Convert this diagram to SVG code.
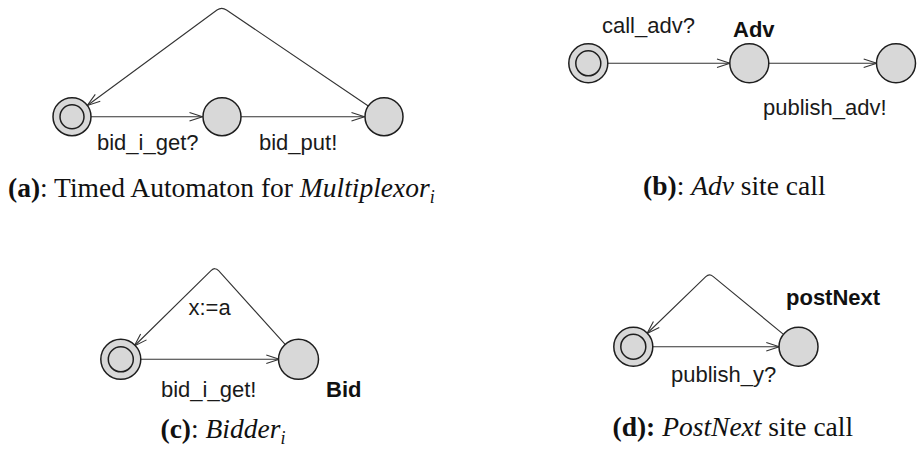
<svg xmlns="http://www.w3.org/2000/svg" width="917" height="453" viewBox="0 0 917 453">
  <defs>
    <marker id="arrow" markerUnits="userSpaceOnUse" markerWidth="16" markerHeight="12" viewBox="-14 -6 16 12" refX="0" refY="0" orient="auto">
      <path d="M -13 -4.2 L 0 0 L -13 4.2" fill="none" stroke="#333" stroke-width="1.1"/>
    </marker>
    <style>
      .loc { fill: #d8d8d8; stroke: #1e1e1e; stroke-width: 1.5; }
      .inner { fill: none; stroke: #1e1e1e; stroke-width: 1.5; }
      .edge { fill: none; stroke: #333; stroke-width: 1.1; marker-end: url(#arrow); }
      .lbl { font-family: "Liberation Sans", Arial, sans-serif; font-size: 22px; fill: #1a1a1a; }
      .name { font-family: "Liberation Sans", Arial, sans-serif; font-size: 22px; font-weight: bold; fill: #111; }
      .cap { font-family: "Liberation Serif", "Times New Roman", serif; font-size: 27.5px; fill: #111; }
      .b { font-weight: bold; }
      .i { font-style: italic; }
    </style>
  </defs>

  <!-- connectors -->
  <g id="edges">
    <!-- (a) Multiplexor -->
    <path class="edge" d="M 91 116.7 L 202.5 116.7"/>
    <path class="edge" d="M 241 116.7 L 364.5 116.7"/>
    <path class="edge" d="M 368.3 106 L 226.5 10 Q 221.7 6.7 217 10 L 87.3 105.5"/>
    <!-- (b) Adv -->
    <path class="edge" d="M 608 63.3 L 730 63.3"/>
    <path class="edge" d="M 768.5 63.3 L 876.7 63.3"/>
    <!-- (c) Bidder -->
    <path class="edge" d="M 140 359.3 L 279.3 359.3"/>
    <path class="edge" d="M 285.8 345.2 L 218.6 270.7 Q 215 266.7 211 270.6 L 134.3 346"/>
    <!-- (d) PostNext -->
    <path class="edge" d="M 652.5 346.7 L 779.3 346.7"/>
    <path class="edge" d="M 783.8 334.6 L 713 276.4 Q 709.3 273.3 705.8 276.7 L 647 333.5"/>
  </g>

  <!-- (a) locations -->
  <g id="a-init"><circle class="loc" cx="72" cy="116.7" r="19"/><circle class="inner" cx="72" cy="116.7" r="12"/></g>
  <g id="a-mid"><circle class="loc" cx="222" cy="116.7" r="19"/></g>
  <g id="a-end"><circle class="loc" cx="384" cy="116.7" r="19"/></g>
  <g id="a-labels">
    <text class="lbl" x="97" y="150">bid_i_get?</text>
    <text class="lbl" x="259" y="150">bid_put!</text>
  </g>
  <g id="a-caption">
    <text class="cap" x="8" y="197"><tspan class="b">(a)</tspan>: Timed Automaton for <tspan class="i">Multiplexor</tspan><tspan class="i" font-size="18" dy="6">i</tspan></text>
  </g>

  <!-- (b) locations -->
  <g id="b-init"><circle class="loc" cx="588.3" cy="63.3" r="19.5"/><circle class="inner" cx="588.3" cy="63.3" r="12.5"/></g>
  <g id="b-adv"><circle class="loc" cx="749.3" cy="63.3" r="19.5"/><text class="name" x="733" y="36.5">Adv</text></g>
  <g id="b-end"><circle class="loc" cx="896" cy="63.3" r="19.5"/></g>
  <g id="b-labels">
    <text class="lbl" x="602" y="33">call_adv?</text>
    <text class="lbl" x="763" y="115">publish_adv!</text>
  </g>
  <g id="b-caption">
    <text class="cap" x="643" y="195"><tspan class="b">(b)</tspan>: <tspan class="i">Adv</tspan> site call</text>
  </g>

  <!-- (c) locations -->
  <g id="c-init"><circle class="loc" cx="120.8" cy="359.3" r="20"/><circle class="inner" cx="120.8" cy="359.3" r="12.5"/></g>
  <g id="c-bid"><circle class="loc" cx="298.5" cy="359.3" r="20"/><text class="name" x="326" y="396.5">Bid</text></g>
  <g id="c-labels">
    <text class="lbl" x="188.5" y="315">x:=a</text>
    <text class="lbl" x="161" y="396.5">bid_i_get!</text>
  </g>
  <g id="c-caption">
    <text class="cap" x="160.5" y="438"><tspan class="b">(c)</tspan>: <tspan class="i">Bidder</tspan><tspan class="i" font-size="18" dy="6">i</tspan></text>
  </g>

  <!-- (d) locations -->
  <g id="d-init"><circle class="loc" cx="633.3" cy="346.7" r="19.5"/><circle class="inner" cx="633.3" cy="346.7" r="12.5"/></g>
  <g id="d-post"><circle class="loc" cx="798.5" cy="346.7" r="19.5"/><text class="name" x="786" y="305">postNext</text></g>
  <g id="d-labels">
    <text class="lbl" x="671" y="381.5">publish_y?</text>
  </g>
  <g id="d-caption">
    <text class="cap" x="612.5" y="435.5"><tspan class="b">(d):</tspan> <tspan class="i">PostNext</tspan> site call</text>
  </g>
</svg>
